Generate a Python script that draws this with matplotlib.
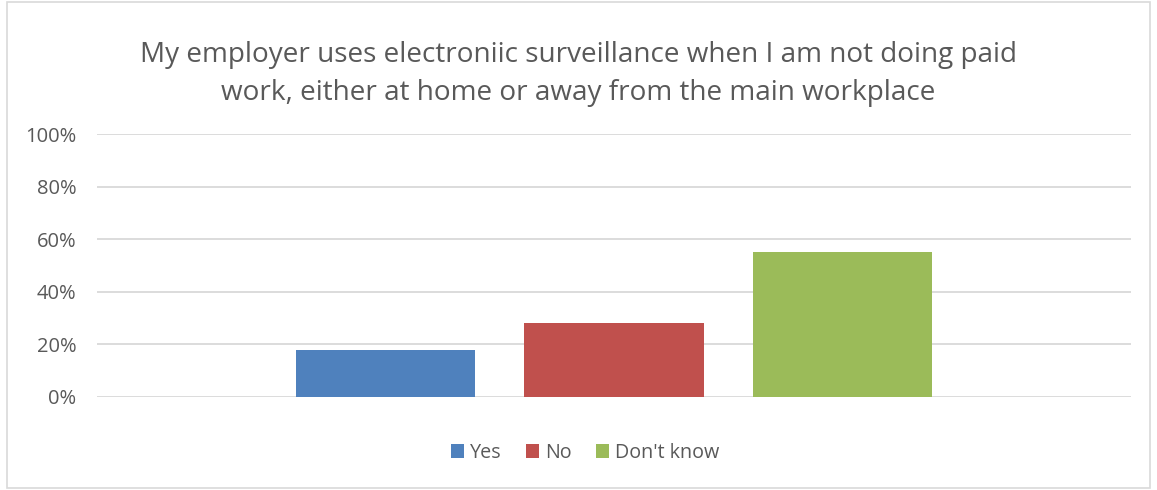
import matplotlib
matplotlib.use("Agg")
import matplotlib.pyplot as plt
from matplotlib.patches import Rectangle
from matplotlib.ticker import PercentFormatter

categories = ["Yes", "No", "Don't know"]
values = [18, 28, 55]
colors = ["#4F81BD", "#C0504D", "#9BBB59"]
title = "My employer uses electroniic surveillance when I am not doing paid\nwork, either at home or away from the main workplace"
yticks = [0, 20, 40, 60, 80, 100]

plt.rcParams['font.family'] = ['Open Sans', 'DejaVu Sans']
W, H = 1157, 490
fig = plt.figure(figsize=(W/100, H/100), dpi=100)
fig.patches.append(Rectangle((7/W, 2/H), (1150-7)/W, (488-2)/H, transform=fig.transFigure,
                             fill=False, edgecolor="#D9D9D9", linewidth=1.2))

ax = fig.add_axes([97/W, 1-397/H, (1131-97)/W, (397-134)/H])
width = 0.174
offsets = [-0.221, 0.0, 0.221]
for cat, v, c, off in zip(categories, values, colors, offsets):
    ax.bar(off, v, width=width, color=c, label=cat, zorder=3)

ax.set_xlim(-0.5, 0.5)
ax.set_ylim(0, 100)
ax.set_yticks(yticks)
ax.yaxis.set_major_formatter(PercentFormatter(decimals=0))
ax.set_xticks([])
ax.grid(axis='y', color="#D9D9D9", linewidth=1.3, zorder=0)
for s in ax.spines.values():
    s.set_visible(False)
ax.tick_params(axis='y', length=0, pad=15, labelsize=14.5, labelcolor="#595959")

fig.text(578/W, 1-74/H, title, ha='center', va='center', fontsize=20.1,
         color="#595959", linespacing=1.5)

leg = fig.legend(loc='center', bbox_to_anchor=(585/W, 1-453/H), ncol=3, frameon=False,
                 fontsize=14.2, handlelength=0.7, handleheight=0.7, handletextpad=0.3,
                 columnspacing=1.2, labelcolor="#595959")

fig.savefig("out.png", dpi=100)
